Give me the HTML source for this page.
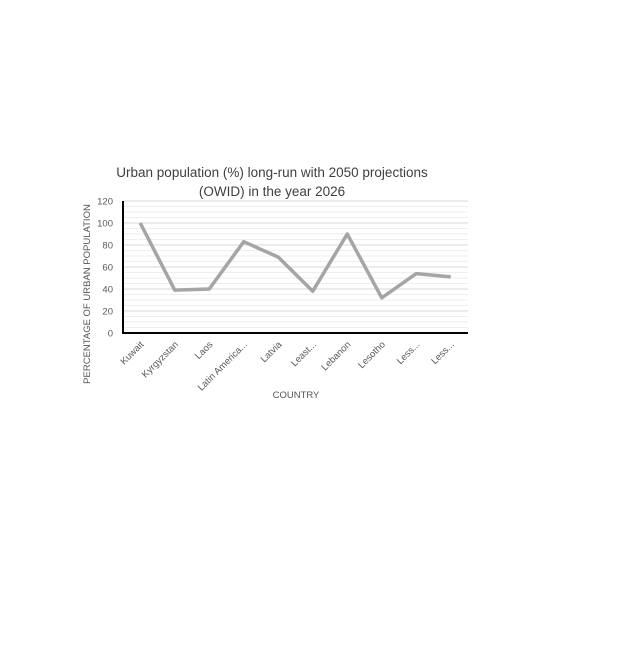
<!DOCTYPE html>
<html><head><meta charset="utf-8"><style>
body{margin:0;background:#fff;}
svg text{font-family:"Liberation Sans",sans-serif;}
</style></head><body>
<svg width="640" height="640" id="c">
<text x="272" y="177" text-anchor="middle" font-size="13.5" fill="#404040">Urban population (%) long-run with 2050 projections</text>
<text x="272" y="196" text-anchor="middle" font-size="13.5" fill="#404040">(OWID) in the year 2026</text>
<text x="296" y="398" text-anchor="middle" font-size="9.5" fill="#555">COUNTRY</text>
<text transform="translate(90,294) rotate(-90)" text-anchor="middle" font-size="9.5" fill="#555">PERCENTAGE OF URBAN POPULATION</text>
<g id="grid"></g><g id="marks"></g>
</svg>
<script>
const categories=["Kuwait","Kyrgyzstan","Laos","Latin America...","Latvia","Least...","Lebanon","Lesotho","Less...","Less..."];
const values=[100,39,40,83,69,38,90,32,54,51];
const yTicks=[0,20,40,60,80,100,120];
const ns="http://www.w3.org/2000/svg";
const X0=123,X1=468,Y0=333,Y1=201;
const y=v=>Y0-(v/120)*(Y0-Y1);
const step=(X1-X0)/categories.length;
const x=i=>X0+step*(i+0.5);
const svg=document.getElementById('c');
const grid=document.getElementById('grid'),marks=document.getElementById('marks');
function mk(t,a,p){const e=document.createElementNS(ns,t);for(const k in a)e.setAttribute(k,a[k]);(p||svg).appendChild(e);return e;}
for(let v=0;v<=120;v+=5){
 const g=mk('line',{x1:X0,x2:X1,y1:y(v),y2:y(v),stroke:v%20==0?'#d9d9d9':'#eeeeee','stroke-width':1},grid);
 
 
}
yTicks.forEach(v=>{
 const t=mk('text',{x:113,y:y(v)+3.5,'text-anchor':'end','font-size':9.5,fill:'#595959'},grid);
 t.textContent=v;
 
 
});
const ax=mk('line',{x1:X0,x2:X0,y1:Y1,y2:Y0+1,stroke:'#000','stroke-width':2},grid);


const bx=mk('line',{x1:X0-1,x2:X1,y1:Y0,y2:Y0,stroke:'#000','stroke-width':2},grid);


categories.forEach((c,i)=>{
 const t=mk('text',{transform:`translate(${x(i)+4},${Y0+12}) rotate(-45)`,'text-anchor':'end','font-size':9.5,fill:'#595959'},grid);
 t.textContent=c;
 
 
});
const line=mk('polyline',{points:values.map((v,i)=>x(i)+','+y(v)).join(' '),fill:'none',stroke:'#a5a5a5','stroke-width':3.5,'stroke-linejoin':'round'},marks);


</script>
</body></html>
